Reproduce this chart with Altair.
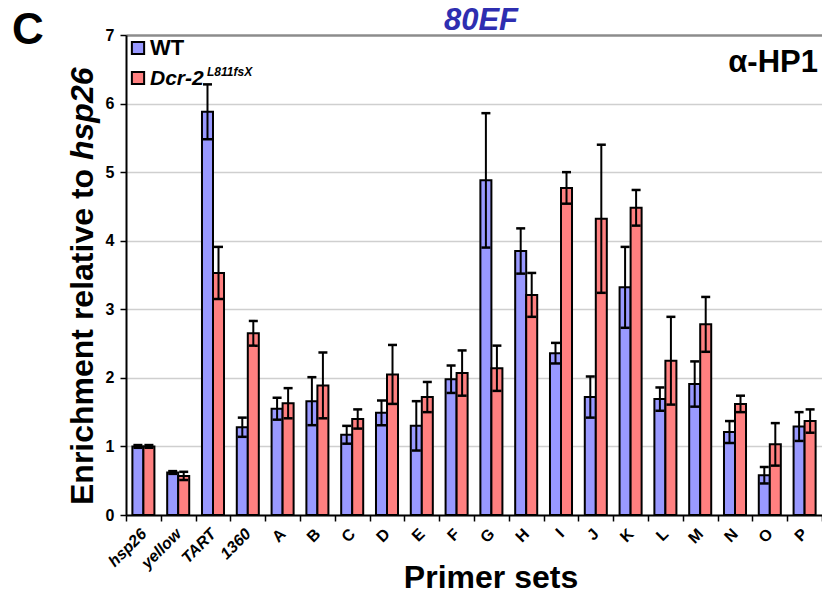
import altair as alt
import pandas as pd

categories = ["hsp26", "yellow", "TART", "1360", "A", "B", "C", "D", "E", "F",
              "G", "H", "I", "J", "K", "L", "M", "N", "O", "P"]
italic_categories = ["hsp26", "yellow", "TART", "1360"]
series_names = ["WT", "Dcr-2"]
series_colors = ["#9999FF", "#FF8080"]

wt_values = [1.00, 0.62, 5.88, 1.28, 1.55, 1.66, 1.17, 1.49, 1.30, 1.98,
             4.88, 3.85, 2.36, 1.72, 3.32, 1.69, 1.91, 1.21, 0.58, 1.29]
wt_errors = [0.02, 0.02, 0.40, 0.14, 0.16, 0.35, 0.13, 0.18, 0.36, 0.20,
             0.98, 0.33, 0.15, 0.30, 0.59, 0.17, 0.33, 0.16, 0.12, 0.21]
dcr_values = [1.00, 0.57, 3.53, 2.65, 1.63, 1.89, 1.40, 2.05, 1.72, 2.07,
              2.14, 3.21, 4.77, 4.32, 4.48, 2.25, 2.78, 1.62, 1.03, 1.37]
dcr_errors = [0.02, 0.06, 0.38, 0.18, 0.22, 0.48, 0.14, 0.43, 0.22, 0.33,
              0.33, 0.32, 0.23, 1.08, 0.26, 0.64, 0.40, 0.12, 0.31, 0.17]
y_ticks = [0, 1, 2, 3, 4, 5, 6, 7]

rows = []
for i, c in enumerate(categories):
    for s, vals, errs in (("WT", wt_values, wt_errors), ("Dcr-2", dcr_values, dcr_errors)):
        rows.append({"cat": c, "series": s, "value": vals[i],
                     "lo": vals[i] - errs[i], "hi": vals[i] + errs[i]})
df = pd.DataFrame(rows)

W, H = 696, 480
FONT = "Liberation Sans"

italic_list = "[" + ",".join("'%s'" % c for c in italic_categories) + "]"

x_enc = alt.X(
    "cat:N", sort=categories,
    scale=alt.Scale(paddingInner=0, paddingOuter=0),
    axis=alt.Axis(
        title=None, labelAngle=-45, labelAlign="right", labelBaseline="middle",
        labelFont=FONT, labelFontSize=16, labelFontWeight="bold",
        labelFontStyle=alt.expr("indexof(%s, datum.value) >= 0 ? 'italic' : 'normal'" % italic_list),
        labelColor="black", labelPadding=10,
        tickBand="extent", tickSize=6, tickColor="black", tickWidth=1.5,
        domainColor="black", domainWidth=2, grid=False,
    ),
)
xoff_enc = alt.XOffset("series:N", sort=series_names,
                       scale=alt.Scale(paddingInner=0, paddingOuter=0.58))
y_enc = alt.Y(
    "value:Q",
    scale=alt.Scale(domain=[0, 7], nice=False, zero=True),
    axis=alt.Axis(
        title=None, values=y_ticks, format="d",
        labelFont=FONT, labelFontSize=16, labelFontWeight="bold", labelColor="black",
        labelPadding=6, tickSize=6, tickColor="black", tickWidth=1.5,
        domainColor="black", domainWidth=2,
        grid=True,
        gridColor=alt.expr("datum.value == 7 ? '#8c8c8c' : '#cfcfcf'"),
        gridWidth=alt.expr("datum.value == 7 ? 2.5 : 1.5"),
    ),
)
color_enc = alt.Color("series:N", sort=series_names,
                      scale=alt.Scale(domain=series_names, range=series_colors),
                      legend=None)

bars = alt.Chart(df).mark_bar(stroke="black", strokeWidth=2).encode(
    x=x_enc, xOffset=xoff_enc, y=y_enc, color=color_enc)
err = alt.Chart(df).mark_rule(color="black", strokeWidth=2).encode(
    x=x_enc, xOffset=xoff_enc, y="lo:Q", y2="hi:Q")
cap_hi = alt.Chart(df).mark_tick(color="black", thickness=2.5, size=9, opacity=1).encode(
    x=x_enc, xOffset=xoff_enc, y="hi:Q")
cap_lo = alt.Chart(df).mark_tick(color="black", thickness=2.5, size=9, opacity=1).encode(
    x=x_enc, xOffset=xoff_enc, y="lo:Q")

one = pd.DataFrame({"k": [0]})


def label(text, px, py, size, style="normal", align="left", angle=0, color="black", baseline="alphabetic"):
    return alt.Chart(one).mark_text(
        text=text, font=FONT, fontSize=size, fontWeight="bold", fontStyle=style,
        align=align, baseline=baseline, angle=angle, color=color,
    ).encode(x=alt.value(px), y=alt.value(py))


legend_sq = alt.Chart(pd.DataFrame({"series": series_names, "py": [13, 43]})).mark_square(
    size=150, stroke="black", strokeWidth=2, opacity=1).encode(
    x=alt.value(12), y=alt.Y("py:Q", scale=None),
    color=alt.Color("series:N", scale=alt.Scale(domain=series_names, range=series_colors), legend=None))

texts = [
    label("C", -114, 9, 44),
    label("80EF", 355, -5, 31, style="italic", align="center", color="#2E2EB0"),
    label("\u03b1-HP1", 692, 37, 31, align="right"),
    label("WT", 24, 20, 22),
    label("Dcr-2", 24, 50, 21, style="italic"),
    label("L811fsX", 81, 41, 12, style="italic"),
    label("Primer sets", 365, 553, 32, align="center"),
    label("Enrichment relative to ", -33, 470, 32, angle=270),
    label("hsp26", -33, 125, 32, angle=270, style="italic"),
]

chart = alt.layer(bars, err, cap_hi, cap_lo, legend_sq, *texts).properties(
    width=W, height=H,
    autosize=alt.AutoSizeParams(type="none"),
    padding={"left": 118, "top": 27, "right": 0, "bottom": 75},
).configure_view(strokeWidth=0).configure(background="white")

chart.save("out.html", embed_options={"renderer": "svg", "actions": False})
